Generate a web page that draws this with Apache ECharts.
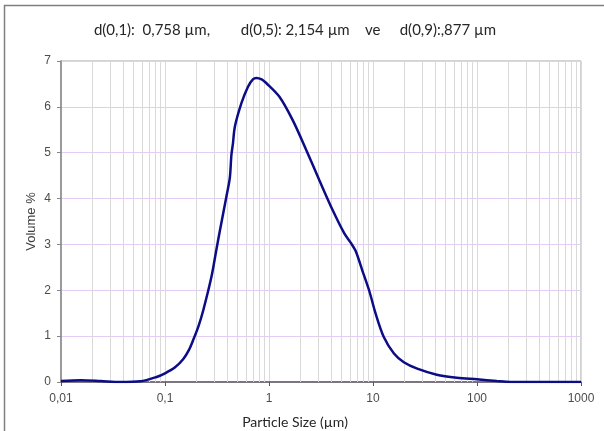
<!DOCTYPE html>
<html>
<head>
    <meta charset="UTF-8">
    <title>Particle size distribution</title>
    <script src="https://cdn.jsdelivr.net/npm/echarts@6/dist/echarts.min.js"></script>
    <style>
        body { margin: 0; background: #fff; }
        #chart { width: 604px; height: 431px; }
    </style>
</head>
<body>
    <div id="chart"></div>

    <script>
        // particle size (µm) and volume %
        var sizes = [0.01, 0.0155, 0.024, 0.037, 0.058, 0.083, 0.1, 0.125, 0.15, 0.17,
                     0.187, 0.21, 0.233, 0.28, 0.31, 0.337, 0.39, 0.42, 0.435, 0.45,
                     0.47, 0.543, 0.628, 0.7, 0.755, 0.85, 0.94, 1.26, 1.69, 2.28,
                     3.05, 4.09, 5.3, 6.1, 6.8, 7.9, 9.2, 10.6, 12.7, 15.9,
                     19.8, 26.6, 41, 64, 100, 155, 209, 400, 1000];
        var volume = [0.02, 0.036, 0.02, 0.0, 0.015, 0.11, 0.19, 0.32, 0.5, 0.7,
                      0.92, 1.22, 1.56, 2.3, 2.85, 3.3, 4.05, 4.45, 4.95, 5.2,
                      5.57, 6.08, 6.44, 6.6, 6.63, 6.6, 6.52, 6.22, 5.71, 5.06,
                      4.4, 3.75, 3.24, 3.04, 2.86, 2.43, 1.99, 1.49, 0.98, 0.62,
                      0.43, 0.29, 0.16, 0.094, 0.058, 0.02, 0.0, 0.0, 0.0];
        var yTicks = [0, 1, 2, 3, 4, 5, 6, 7];
        var titleText = 'd(0,1):  0,758 \u00b5m,        d(0,5): 2,154 \u00b5m    ve     d(0,9):,877 \u00b5m';
        var xTitle = 'Particle Size (\u00b5m)';
        var yTitle = 'Volume %';

        // minor vertical grid lines at 2..9 of every decade
        var minorLines = [];
        [0.01, 0.1, 1, 10, 100].forEach(function (d) {
            for (var k = 2; k <= 9; k++) minorLines.push({xAxis: +(d * k).toPrecision(3)});
        });

        var chart = echarts.init(document.getElementById('chart'), null, {renderer: 'canvas'});

        var option = {
            animation: false,
            title: [{
                text: titleText,
                left: 290,
                textAlign: 'center',
                top: 18,
                textStyle: {fontFamily: 'Lato', fontSize: 15, fontWeight: 'normal', color: '#262626'}
            }, {
                text: xTitle,
                left: 290,
                textAlign: 'center',
                top: 410,
                textStyle: {fontFamily: 'Lato', fontSize: 14, fontWeight: 'normal', color: '#262626'}
            }],
            graphic: [{
                type: 'rect',
                shape: {x: 4.5, y: 5.5, width: 700, height: 500},
                style: {fill: 'none', stroke: '#7f7f7f', lineWidth: 1.5},
                silent: true
            }],
            grid: {
                left: 61, right: 23, top: 61, bottom: 49,
                show: true, borderColor: '#a6a6a6', borderWidth: 1, backgroundColor: 'transparent'
            },
            xAxis: {
                type: 'log',
                min: 0.01,
                max: 1000,
                logBase: 10,
                axisLine: {lineStyle: {color: '#595959', width: 1.5}},
                axisTick: {show: true, inside: false, length: 4, lineStyle: {color: '#595959'}},
                axisLabel: {
                    fontFamily: 'Liberation Sans', fontSize: 12, color: '#4d4d4d', margin: 11,
                    formatter: function (v) { return String(v).replace('.', ','); }
                },
                splitLine: {show: true, lineStyle: {color: '#d9d9d9', width: 1}}
            },
            yAxis: {
                type: 'value',
                min: yTicks[0],
                max: yTicks[yTicks.length - 1],
                interval: 1,
                name: yTitle,
                nameLocation: 'middle',
                nameGap: 23,
                nameMoveOverlap: false,
                nameRotate: 90,
                nameTextStyle: {fontFamily: 'Liberation Sans', fontSize: 13, color: '#404040'},
                axisLine: {show: true, lineStyle: {color: '#868686', width: 1.5}},
                axisTick: {show: true, inside: false, length: 4, lineStyle: {color: '#868686'}},
                axisLabel: {fontFamily: 'Liberation Sans', fontSize: 12, color: '#4d4d4d', margin: 10},
                splitLine: {show: true, lineStyle: {color: '#e3cdf7', width: 1}}
            },
            series: [{
                type: 'line',
                data: sizes.map(function (s, i) { return [s, volume[i]]; }),
                smooth: 0.3,
                showSymbol: false,
                z: 5,
                lineStyle: {color: '#0c0c86', width: 2.5},
                markLine: {
                    silent: true,
                    symbol: 'none',
                    label: {show: false},
                    lineStyle: {color: '#d9d9d9', width: 1, type: 'solid'},
                    data: minorLines,
                    z: 1
                }
            }]
        };

        chart.setOption(option);
    </script>
</body>
</html>
